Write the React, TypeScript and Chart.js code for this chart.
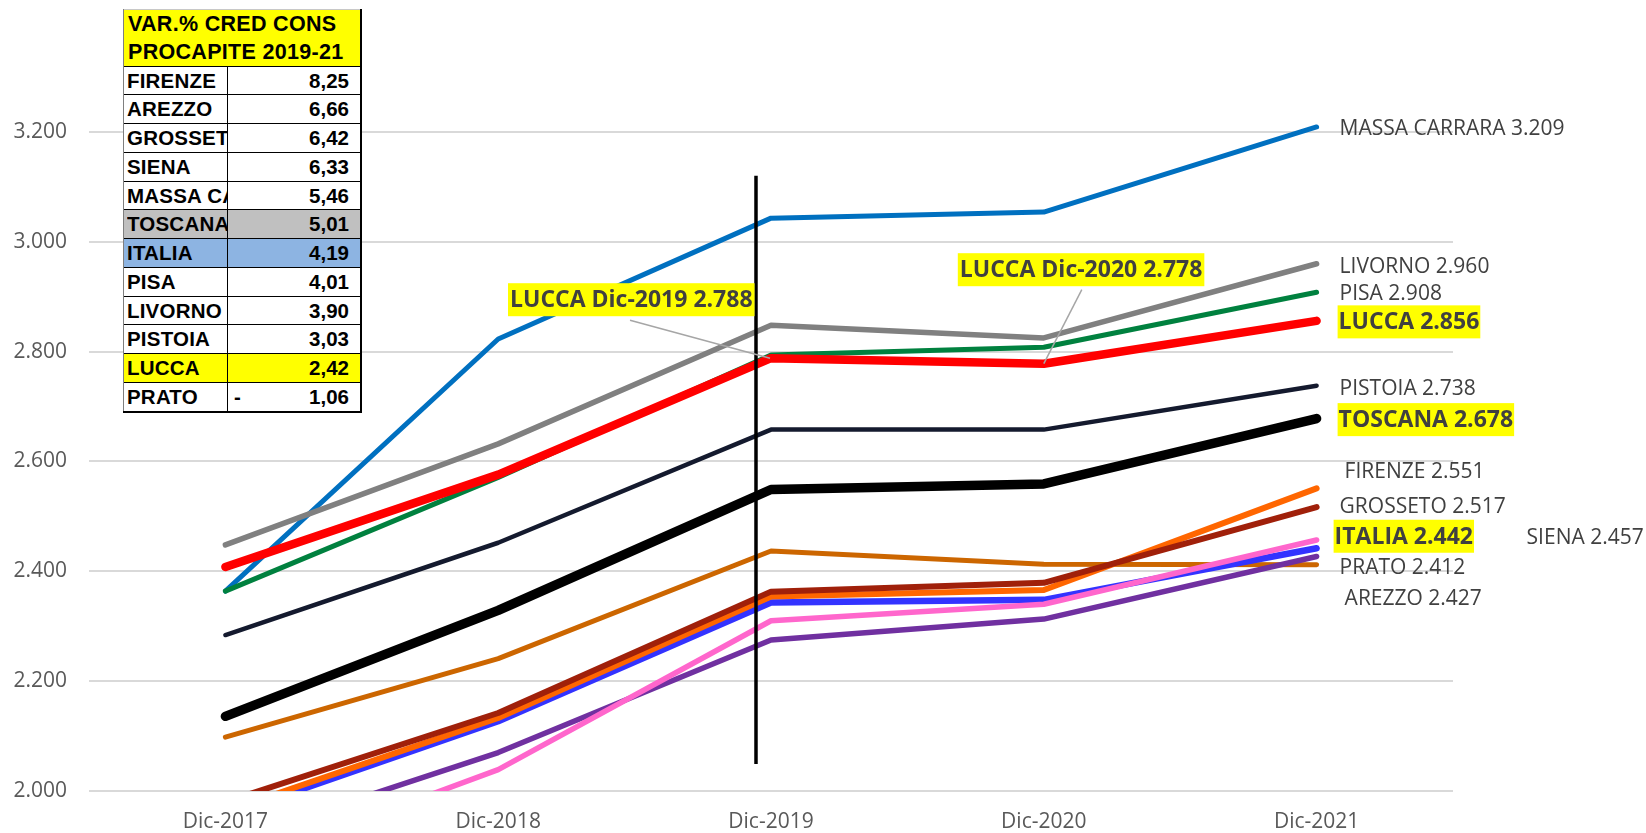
import React, { useEffect, useRef } from "react";
import { Chart, registerables } from "chart.js";

Chart.register(...registerables);

// ---------- DATA ----------
const categories = ["Dic-2017", "Dic-2018", "Dic-2019", "Dic-2020", "Dic-2021"];

const toscana = [2136, 2329, 2549, 2559, 2678];
const lucca = [2408, 2576, 2788, 2778, 2856];
const pisa = [2364, 2571, 2794, 2808, 2908];
const livorno = [2448, 2632, 2848, 2825, 2960];
const massaCarrara = [2364, 2823, 3043, 3054, 3209];
const pistoia = [2284, 2452, 2658, 2658, 2738];
const grosseto = [1980, 2142, 2363, 2379, 2517];
const firenze = [1963, 2133, 2354, 2366, 2551];
const siena = [1855, 2039, 2310, 2340, 2457];
const italia = [1955, 2127, 2343, 2348, 2442];
const arezzo = [1906, 2070, 2275, 2313, 2427];
const prato = [2098, 2241, 2437, 2413, 2412];

const seriesNames = ["TOSCANA", "LUCCA", "PISA", "LIVORNO", "MASSA CARRARA", "PISTOIA", "GROSSETO", "FIRENZE", "SIENA", "ITALIA", "AREZZO", "PRATO"];
const seriesValues = [toscana, lucca, pisa, livorno, massaCarrara, pistoia, grosseto, firenze, siena, italia, arezzo, prato];

// table "VAR.% CRED CONS PROCAPITE 2019-21"
const tableTitle = ["VAR.% CRED CONS", "PROCAPITE 2019-21"];
const tableNames = ["FIRENZE", "AREZZO", "GROSSETO", "SIENA", "MASSA CARRARA", "TOSCANA", "ITALIA", "PISA", "LIVORNO", "PISTOIA", "LUCCA", "PRATO"];
const tableValues = [8.25, 6.66, 6.42, 6.33, 5.46, 5.01, 4.19, 4.01, 3.9, 3.03, 2.42, -1.06];

// y axis
const yMin = 2000;
const yMax = 3300;
const yStep = 200;

// annotations (data-space)
const markerCategory = 1.945; // vertical divider just before Dic-2019
const markerFrom = 2049;
const markerTo = 3120;
const calloutIndices = [2, 3]; // LUCCA Dic-2019, Dic-2020

// ---------- STYLE ----------
const seriesColors = ["#000000", "#FF0000", "#00813F", "#808080", "#0070C0", "#141A2E", "#A0200A", "#FF6600", "#FF66CC", "#3333FF", "#7030A0", "#CC6600"];
const seriesWidths = [9.5, 8.5, 5, 5.5, 5, 4.5, 6, 6, 5.5, 6.5, 5.5, 5];
const labelDx = [22, 22, 23, 23, 23, 23, 23, 28, 210, 18, 28, 23];
const labelDy = [1, 1, 1, 2, 1, 2, -1, -17, -3, -12, 42, 2];
const labelHighlight = [true, true, false, false, false, false, false, false, false, true, false, false];
const calloutBox = [
  { dx: -263, dy: -75, lx: -141, ly: -38, ex: -1, ey: 0 },
  { dx: -86, dy: -110.5, lx: 38, ly: -74, ex: 0, ey: 0 },
];
const tableRowBg: Record<string, string> = { TOSCANA: "#C0C0C0", ITALIA: "#8DB4E2", LUCCA: "#FFFF00" };

const FONT = "'Open Sans', 'Noto Sans', sans-serif";

function fmtThousands(v: number): string {
  const r = Math.round(v);
  const th = Math.floor(r / 1000);
  const rest = r % 1000;
  return th > 0 ? `${th}.${String(rest).padStart(3, "0")}` : String(rest);
}

function fmtComma(v: number): string {
  return Math.abs(v).toFixed(2).replace(".", ",");
}

const annotPlugin = {
  id: "annotPlugin",
  afterDatasetsDraw(chart: any) {
    const { ctx } = chart;
    const x = chart.scales.x;
    const y = chart.scales.y;
    ctx.save();

    // vertical divider line
    const vx = x.getPixelForValue(markerCategory);
    ctx.strokeStyle = "#000000";
    ctx.lineWidth = 3.5;
    ctx.beginPath();
    ctx.moveTo(vx, y.getPixelForValue(markerTo));
    ctx.lineTo(vx, y.getPixelForValue(markerFrom));
    ctx.stroke();

    // callouts for LUCCA
    calloutIndices.forEach((idx, k) => {
      const px = x.getPixelForValue(idx);
      const py = y.getPixelForValue(lucca[idx]);
      const cb = calloutBox[k];
      const text = `LUCCA ${categories[idx]} ${fmtThousands(lucca[idx])}`;
      ctx.font = `bold 23px ${FONT}`;
      const w = ctx.measureText(text).width + 4;
      const h = 33;
      const bx = px + cb.dx;
      const by = py + cb.dy;
      ctx.strokeStyle = "#A6A6A6";
      ctx.lineWidth = 1.5;
      ctx.beginPath();
      ctx.moveTo(px + cb.lx, py + cb.ly);
      ctx.lineTo(px + cb.ex, py + cb.ey);
      ctx.stroke();
      ctx.fillStyle = "#FFFF00";
      ctx.fillRect(bx, by, w, h);
      ctx.fillStyle = "#404040";
      ctx.textBaseline = "middle";
      ctx.textAlign = "left";
      ctx.fillText(text, bx + 2, by + h / 2 + 1);
    });

    // end labels
    seriesNames.forEach((name, i) => {
      const vals = seriesValues[i];
      const last = vals.length - 1;
      const px = x.getPixelForValue(last) + labelDx[i];
      const py = y.getPixelForValue(vals[last]) + labelDy[i];
      const text = `${name} ${fmtThousands(vals[last])}`;
      ctx.font = labelHighlight[i] ? `bold 23px ${FONT}` : `21px ${FONT}`;
      ctx.textBaseline = "middle";
      ctx.textAlign = "left";
      if (labelHighlight[i]) {
        const w = ctx.measureText(text).width;
        ctx.fillStyle = "#FFFF00";
        ctx.fillRect(px - 1, py - 16.5, w + 2, 33);
      }
      ctx.fillStyle = "#404040";
      ctx.fillText(text, px, py + 1);
    });

    ctx.restore();
  },
};

function ValueTable() {
  const left = 123;
  const top = 9;
  const width = 238;
  const headH = 57.5;
  const rowH = 28.75;
  const col1 = 104;
  const font = "'Liberation Sans', Arial, sans-serif";
  const totalH = headH + rowH * tableNames.length;
  return (
    <div
      style={{
        position: "absolute",
        left,
        top,
        width,
        height: totalH,
        fontFamily: font,
        fontWeight: "bold",
        color: "#000",
        zIndex: 2,
        background: "#fff",
      }}
    >
      <div
        style={{
          position: "absolute",
          left: 0,
          top: 0,
          right: 0,
          height: headH,
          background: "#FFFF00",
          fontSize: 21.5,
          letterSpacing: 0.3,
          lineHeight: "28px",
          paddingLeft: 5,
          paddingTop: 1,
          boxSizing: "border-box",
          borderBottom: "1px solid #000",
        }}
      >
        {tableTitle.map((t, i) => (
          <div key={i} style={{ whiteSpace: "nowrap" }}>{t}</div>
        ))}
      </div>
      {tableNames.map((n, i) => {
        const v = tableValues[i];
        const bg = tableRowBg[n] || "#FFFFFF";
        return (
          <div
            key={n}
            style={{
              position: "absolute",
              left: 0,
              right: 0,
              top: headH + i * rowH,
              height: rowH,
              background: bg,
              borderBottom: "1px solid #000",
              boxSizing: "border-box",
              fontSize: 20.5,
            }}
          >
            <div
              style={{
                position: "absolute",
                left: 4,
                top: 0,
                width: col1 - 4,
                height: rowH - 1,
                lineHeight: `${rowH - 1}px`,
                overflow: "hidden",
                whiteSpace: "nowrap",
                letterSpacing: 0.2,
              }}
            >
              {n}
            </div>
            <div
              style={{
                position: "absolute",
                left: col1,
                top: 0,
                bottom: 0,
                width: 1,
                background: "#000",
              }}
            />
            {v < 0 ? (
              <div style={{ position: "absolute", left: col1 + 7, top: 0, lineHeight: `${rowH - 1}px` }}>-</div>
            ) : null}
            <div
              style={{
                position: "absolute",
                right: 12,
                top: 0,
                lineHeight: `${rowH - 1}px`,
              }}
            >
              {fmtComma(v)}
            </div>
          </div>
        );
      })}
      {/* outer borders */}
      <div style={{ position: "absolute", left: 0, top: 0, right: 0, height: 1, background: "#C8C8C8" }} />
      <div style={{ position: "absolute", left: 0, top: 0, bottom: 0, width: 1, background: "#7F7F7F" }} />
      <div style={{ position: "absolute", right: -1, top: 0, bottom: -1, width: 2, background: "#000" }} />
      <div style={{ position: "absolute", left: 0, right: -1, bottom: -1, height: 2, background: "#000" }} />
    </div>
  );
}

export default function App() {
  const canvasRef = useRef<HTMLCanvasElement | null>(null);

  useEffect(() => {
    if (!canvasRef.current) return;
    const datasets = seriesNames.map((name, i) => ({
      label: name,
      data: seriesValues[i],
      borderColor: seriesColors[i],
      backgroundColor: seriesColors[i],
      borderWidth: seriesWidths[i],
      pointRadius: 0,
      pointHoverRadius: 0,
      tension: 0,
      fill: false,
      borderCapStyle: "round" as const,
      borderJoinStyle: "round" as const,
      clip: 0,
    }));

    const chart = new Chart(canvasRef.current, {
      type: "line",
      data: { labels: categories, datasets },
      options: {
        responsive: false,
        animation: false,
        events: [],
        layout: { padding: { top: 77, right: 193, left: 0, bottom: 0 } },
        plugins: { legend: { display: false }, tooltip: { enabled: false } },
        scales: {
          x: {
            type: "category",
            offset: true,
            grid: { display: false, drawTicks: false },
            border: { display: false },
            ticks: {
              color: "#595959",
              font: { family: FONT, size: 21 },
              padding: 18,
              maxRotation: 0,
            },
            afterFit: (s: any) => {
              s.height = 42;
            },
          },
          y: {
            min: yMin,
            max: yMax,
            grid: { color: "#D9D9D9", lineWidth: 2, drawTicks: false },
            border: { display: false },
            ticks: {
              stepSize: yStep,
              color: "#595959",
              font: { family: FONT, size: 21 },
              padding: 22,
              callback: (v: any) => fmtThousands(Number(v)),
            },
            afterBuildTicks: (s: any) => {
              s.ticks = s.ticks.filter((t: any) => (t.value - yMin) % yStep === 0);
            },
            afterFit: (s: any) => {
              s.width = 89;
            },
          },
        },
      },
      plugins: [annotPlugin],
    });
    return () => chart.destroy();
  }, []);

  return (
    <div style={{ position: "absolute", left: 0, top: 0, width: 1646, height: 833, background: "#fff" }}>
      <canvas ref={canvasRef} width={1646} height={833} style={{ position: "absolute", left: 0, top: 0 }} />
      <ValueTable />
    </div>
  );
}
